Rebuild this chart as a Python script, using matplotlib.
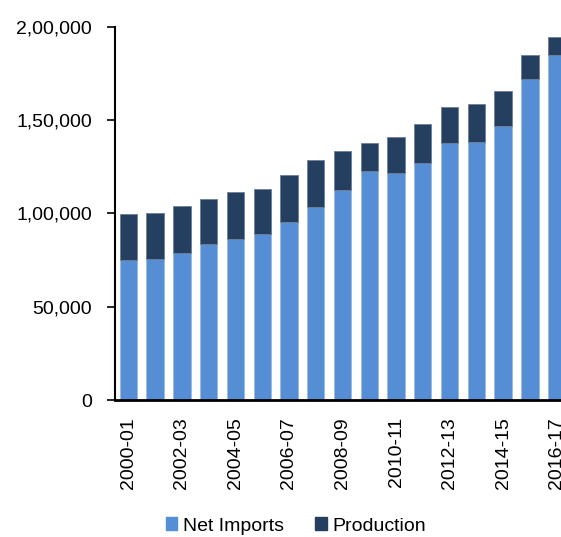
import matplotlib
matplotlib.use("Agg")
import matplotlib.pyplot as plt
from matplotlib import font_manager
from matplotlib.patches import Patch

categories = ["2000-01", "2001-02", "2002-03", "2003-04", "2004-05", "2005-06",
              "2006-07", "2007-08", "2008-09", "2009-10", "2010-11", "2011-12",
              "2012-13", "2013-14", "2014-15", "2015-16", "2016-17"]
net_imports = [75000, 75600, 78900, 83700, 86300, 89200, 95400, 103300, 112400,
               122700, 121800, 126900, 137700, 138100, 146800, 171800, 184800]
total = [99900, 100300, 103900, 107600, 111300, 113100, 120600, 128800, 133500,
         137600, 140900, 148100, 157000, 158500, 165600, 184700, 194600]
production = [t - n for t, n in zip(total, net_imports)]

yticks = [0, 50000, 100000, 150000, 200000]
ytick_labels = ["0", "50,000", "1,00,000", "1,50,000", "2,00,000"]

c_imp = "#558ED5"
c_prod = "#243F60"

# Prefer a narrow sans (like Arial Narrow); fall back to Liberation Sans
try:
    font_manager.findfont(font_manager.FontProperties(family="Liberation Sans Narrow"),
                          fallback_to_default=False)
    plt.rcParams['font.family'] = ['Liberation Sans Narrow', 'DejaVu Sans']
    fs = 16.8
except Exception:
    plt.rcParams['font.family'] = ['Liberation Sans', 'DejaVu Sans']
    fs = 14

fig = plt.figure(figsize=(5.61, 5.37), dpi=100)
ax = fig.add_axes([115 / 561, 1 - 400.3 / 537, 455 / 561, 373.6 / 537])

x = list(range(len(categories)))
ax.bar(x, net_imports, width=0.65, color=c_imp, edgecolor="#9DB9E0", linewidth=0.6)
ax.bar(x, production, bottom=net_imports, width=0.65, color=c_prod,
       edgecolor="#6E7F96", linewidth=0.6)

ax.set_xlim(-0.5, len(categories) - 0.5)
ax.set_ylim(0, 200000)
ax.set_yticks(yticks)
ax.set_yticklabels(ytick_labels)
ax.tick_params(axis='y', direction='out', length=6, width=1.2, labelsize=fs, pad=10.5)
ax.set_xticks(x[::2])
ax.set_xticklabels(categories[::2], rotation=90, fontsize=fs)
ax.tick_params(axis='x', length=0, pad=12)

for s in ["top", "right"]:
    ax.spines[s].set_visible(False)
ax.spines["left"].set_linewidth(1.5)
ax.spines["bottom"].set_linewidth(2)

handles = [Patch(color=c_imp, label="Net Imports"), Patch(color=c_prod, label="Production")]
fig.legend(handles=handles, loc="center", bbox_to_anchor=(296 / 561, 1 - 526 / 537),
           ncol=2, frameon=False, fontsize=fs, handlelength=0.6, handleheight=0.6,
           handletextpad=0.3, columnspacing=1.6, borderpad=0)

fig.savefig("out.png", dpi=100)
